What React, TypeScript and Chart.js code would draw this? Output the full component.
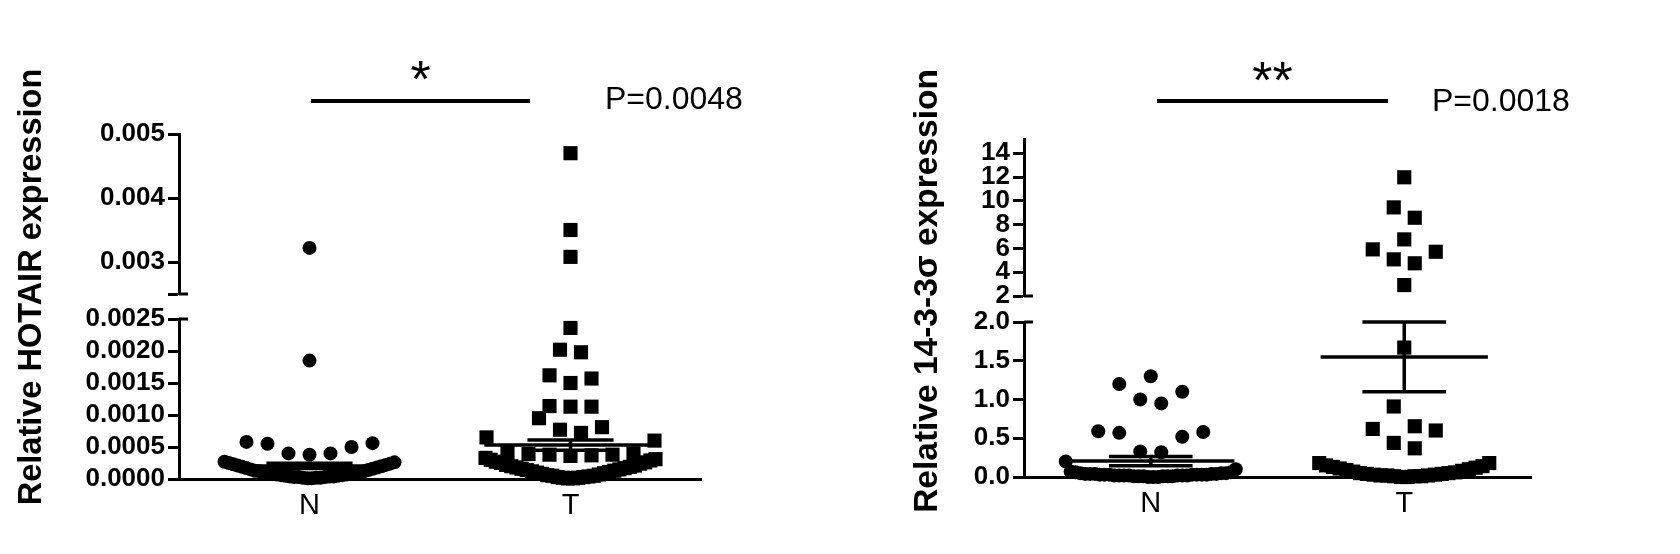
import React, { useEffect, useRef } from "react";
import { Chart, registerables } from "chart.js";

Chart.register(...registerables);

// ---------------- data ----------------
const CATEGORIES = ["N", "T"];

// Panel 1: Relative HOTAIR expression
const HOTAIR_N = [
  0.00322, 0.00185,
  0.00058, 0.00056, 0.00055, 0.0005, 0.0004, 0.0004, 0.00038,
  0.00027, 0.00026, 0.00025, 0.00024, 0.00023, 0.00022, 0.00021, 0.0002, 0.00019, 0.00018,
  0.00017, 0.00016, 0.00015, 0.00014, 0.00013, 0.00012, 0.00012, 0.00011, 0.0001, 0.0001,
  0.00009, 0.00008, 0.00008, 0.00007, 0.00007, 0.00006, 0.00006, 0.00005, 0.00005, 0.00004,
  0.00004, 0.00004, 0.00003, 0.00003, 0.00003, 0.00002, 0.00002, 0.00002, 0.00001, 0.00001,
];
const HOTAIR_T = [
  0.0047, 0.0035, 0.00308,
  0.00236, 0.00202, 0.00198, 0.00162, 0.00157, 0.0015, 0.00114, 0.00113, 0.00113,
  0.00095, 0.00081, 0.00077, 0.00072, 0.00065, 0.0006,
  0.00041, 0.0004, 0.00039, 0.00038, 0.00038, 0.00037, 0.00036,
  0.00033, 0.00031, 0.0003, 0.00029, 0.00027, 0.00026, 0.00025, 0.00024, 0.00022, 0.00021,
  0.0002, 0.00019, 0.00018, 0.00017, 0.00016, 0.00015, 0.00014, 0.00013, 0.00012, 0.00011,
  0.0001, 0.00009, 0.00008, 0.00007, 0.00006, 0.00005, 0.00005, 0.00004, 0.00003, 0.00003,
  0.00002, 0.00002, 0.00001, 0.00001,
];
const HOTAIR_MEAN = [0.000205, 0.00053];
const HOTAIR_SEM = [0.00004, 0.00008];
const HOTAIR_LOWER_TICKS = [0, 0.0005, 0.001, 0.0015, 0.002, 0.0025];
const HOTAIR_UPPER_TICKS = [0.0025, 0.003, 0.004, 0.005];
const HOTAIR_BREAK = 0.0025;
const HOTAIR_TOP = 0.005;

// Panel 2: Relative 14-3-3σ expression
const SIGMA_N = [
  1.3, 1.2, 1.1, 1.0, 0.95,
  0.59, 0.58, 0.57, 0.52, 0.33, 0.32,
  0.2, 0.1, 0.07, 0.06, 0.06, 0.05, 0.05, 0.05, 0.04, 0.04, 0.04, 0.04, 0.04,
  0.03, 0.03, 0.03, 0.03, 0.03, 0.03, 0.03, 0.02, 0.02, 0.02, 0.02, 0.02, 0.02, 0.02,
  0.01, 0.01, 0.01, 0.01, 0.01, 0.01, 0, 0, 0,
];
const SIGMA_T = [
  11.98, 9.45, 8.58, 6.76, 5.92, 5.72, 5.08, 4.75, 2.92,
  1.67, 0.91, 0.655, 0.62, 0.6, 0.44, 0.37, 0.18, 0.18,
  0.15, 0.14, 0.13, 0.12, 0.11, 0.1, 0.09, 0.08, 0.07, 0.06, 0.05, 0.05,
  0.04, 0.04, 0.03, 0.03, 0.02, 0.02, 0.02, 0.01, 0.01, 0.01, 0, 0,
];
const SIGMA_MEAN = [0.205, 1.55];
const SIGMA_SEM = [0.06, 0.45];
const SIGMA_LOWER_TICKS = [0, 0.5, 1, 1.5, 2];
const SIGMA_UPPER_TICKS = [2, 4, 6, 8, 10, 12, 14];
const SIGMA_BREAK = 2;
const SIGMA_TOP = 15.2;

// ---------------- style / layout ----------------
const FONT = "'Liberation Sans', Arial, Helvetica, sans-serif";
const INK = "#000";
const YAXIS_W = 150;
const XAXIS_H = 45;
const TICK_LEN = 11;
const CAP_LEN = 9;
const MEAN_HALF = 0.33;
const SEM_HALF = 0.165;
const ROW_PX = 21;
const STEP_PX = 21;
const HALF_PX = 85;
const MARKERS = ["circle", "rect"];
const MARKER_R = [7, 10];

const PANELS = [
  {
    key: "hotair",
    title: "Relative HOTAIR expression",
    stars: "*",
    pLabel: "P=0.0048",
    groups: [HOTAIR_N, HOTAIR_T],
    means: HOTAIR_MEAN,
    sems: HOTAIR_SEM,
    brk: HOTAIR_BREAK,
    top: HOTAIR_TOP,
    lowerTicks: HOTAIR_LOWER_TICKS,
    upperTicks: HOTAIR_UPPER_TICKS,
    lowerDigits: 4,
    upperDigits: 3,
    hideUpperFirst: true,
    layout: {
      left: 0,
      pad: { left: 29, right: 139, top: 134, bottom: 30 },
      weights: [160, 25, 160],
      titleX: 32,
      titleY: 287,
      titleSize: 32.5,
      bar: [0.506, 1.345],
      barY: 101,
      starBase: 97,
      pX: 605,
      pY: 100,
    },
  },
  {
    key: "sigma",
    title: "Relative 14-3-3σ expression",
    stars: "**",
    pLabel: "P=0.0018",
    groups: [SIGMA_N, SIGMA_T],
    means: SIGMA_MEAN,
    sems: SIGMA_SEM,
    brk: SIGMA_BREAK,
    top: SIGMA_TOP,
    lowerTicks: SIGMA_LOWER_TICKS,
    upperTicks: SIGMA_UPPER_TICKS,
    lowerDigits: 1,
    upperDigits: 0,
    hideUpperFirst: false,
    layout: {
      left: 840,
      pad: { left: 34, right: 149, top: 139, bottom: 32 },
      weights: [157, 26, 155],
      titleX: 88,
      titleY: 291,
      titleSize: 33.5,
      bar: [0.525, 1.436],
      barY: 101,
      starBase: 98,
      pX: 592,
      pY: 102,
    },
  },
];

// Prism-like row scatter: rows of nearby values, spread centre-out
function swarmOffsets(values: number[], toPx: (v: number) => number): number[] {
  const idx = values.map((_, i) => i).sort((a, b) => values[a] - values[b]);
  const off = new Array(values.length).fill(0);
  let i = 0;
  while (i < idx.length) {
    const start = toPx(values[idx[i]]);
    let j = i;
    while (j < idx.length && Math.abs(toPx(values[idx[j]]) - start) <= ROW_PX + 1e-6) j++;
    const row = idx.slice(i, j);
    const k = row.length;
    const s = k > 1 ? Math.min(STEP_PX, (2 * HALF_PX) / (k - 1)) : 0;
    const slots = Array.from({ length: k }, (_, m) => (m - (k - 1) / 2) * s);
    slots.sort((a, b) => Math.abs(a) - Math.abs(b) || b - a);
    row.forEach((p, m) => (off[p] = slots[m]));
    i = j;
  }
  return off;
}

function buildChart(canvas: HTMLCanvasElement, p: any) {
  const L = p.layout;
  const datasets: any[] = [];
  const jobs: any[] = [];

  p.groups.forEach((vals: number[], gi: number) => {
    const center = gi + 0.5;
    const parts = [
      { axis: "yUpper", values: vals.filter((v) => v > p.brk) },
      { axis: "yLower", values: vals.filter((v) => v <= p.brk) },
    ];
    parts.forEach((part) => {
      if (!part.values.length) return;
      jobs.push({ ds: datasets.length, values: part.values, center, axis: part.axis });
      datasets.push({
        type: "scatter",
        label: CATEGORIES[gi],
        data: part.values.map((v) => ({ x: center, y: v })),
        xAxisID: "x",
        yAxisID: part.axis,
        pointStyle: MARKERS[gi],
        pointRadius: MARKER_R[gi],
        pointHoverRadius: MARKER_R[gi],
        pointBackgroundColor: INK,
        pointBorderColor: INK,
        pointBorderWidth: 0,
        clip: false,
        order: 2,
      });
    });
    const m = p.means[gi];
    const s = p.sems[gi];
    const segs = [
      [[center - MEAN_HALF, m], [center + MEAN_HALF, m]],
      [[center - SEM_HALF, m + s], [center + SEM_HALF, m + s]],
      [[center - SEM_HALF, m - s], [center + SEM_HALF, m - s]],
      [[center, m - s], [center, m + s]],
    ];
    segs.forEach((seg) =>
      datasets.push({
        type: "scatter",
        showLine: true,
        data: seg.map(([x, y]) => ({ x, y })),
        xAxisID: "x",
        yAxisID: "yLower",
        borderColor: INK,
        borderWidth: 3.5,
        borderCapStyle: "butt",
        pointRadius: 0,
        pointHoverRadius: 0,
        clip: false,
        order: 1,
      })
    );
  });

  const yBase = {
    type: "linear",
    position: "left",
    stack: "y",
    afterFit: (sc: any) => {
      sc.width = YAXIS_W;
    },
    grid: { drawOnChartArea: false, drawTicks: true, tickLength: TICK_LEN, tickWidth: 3, tickColor: INK },
    border: { display: true, color: INK, width: 3 },
    ticks: {
      autoSkip: false,
      padding: 3,
      color: INK,
      font: { family: FONT, size: 26, weight: "bold" },
    },
  };

  const annot = {
    id: "annot-" + p.key,
    afterDraw(chart: any) {
      const ctx = chart.ctx;
      const xs = chart.scales.x;
      const up = chart.scales.yUpper;
      const lo = chart.scales.yLower;
      ctx.save();
      ctx.fillStyle = INK;
      ctx.strokeStyle = INK;
      // y title
      ctx.save();
      ctx.translate(L.titleX, L.titleY);
      ctx.rotate(-Math.PI / 2);
      ctx.font = `bold ${L.titleSize}px ${FONT}`;
      ctx.textAlign = "center";
      ctx.textBaseline = "middle";
      ctx.fillText(p.title, 0, 0);
      ctx.restore();
      // axis break caps (right half)
      const ax = chart.chartArea.left;
      ctx.lineWidth = 3;
      ctx.lineCap = "butt";
      [up.getPixelForValue(up.min), lo.getPixelForValue(lo.max)].forEach((y: number) => {
        ctx.beginPath();
        ctx.moveTo(ax, y);
        ctx.lineTo(ax + CAP_LEN, y);
        ctx.stroke();
      });
      // significance bar
      const x1 = xs.getPixelForValue(L.bar[0]);
      const x2 = xs.getPixelForValue(L.bar[1]);
      ctx.lineWidth = 4;
      ctx.beginPath();
      ctx.moveTo(x1, L.barY);
      ctx.lineTo(x2, L.barY);
      ctx.stroke();
      ctx.font = `52px ${FONT}`;
      ctx.textAlign = "center";
      ctx.textBaseline = "alphabetic";
      ctx.fillText(p.stars, (x1 + x2) / 2, L.starBase);
      // P value
      ctx.font = `32px ${FONT}`;
      ctx.textAlign = "left";
      ctx.textBaseline = "middle";
      ctx.fillText(p.pLabel, L.pX, L.pY);
      ctx.restore();
    },
  };

  const chart = new Chart(canvas, {
    type: "scatter",
    data: { datasets },
    options: {
      animation: false,
      responsive: false,
      maintainAspectRatio: false,
      devicePixelRatio: 1,
      events: [],
      layout: { autoPadding: false, padding: L.pad },
      plugins: { legend: { display: false }, tooltip: { enabled: false }, title: { display: false } },
      scales: {
        x: {
          type: "linear",
          position: "bottom",
          min: 0,
          max: CATEGORIES.length,
          afterBuildTicks: (sc: any) => {
            sc.ticks = CATEGORIES.map((_, i) => ({ value: i + 0.5 }));
          },
          afterFit: (sc: any) => {
            sc.height = XAXIS_H;
          },
          grid: { drawOnChartArea: false, tickLength: 6, tickWidth: 3, tickColor: INK },
          border: { display: true, color: INK, width: 3 },
          ticks: {
            autoSkip: false,
            maxRotation: 0,
            padding: 4,
            color: INK,
            font: { family: FONT, size: 29 },
            callback: (v: any) => CATEGORIES[Math.floor(Number(v))],
          },
        },
        yUpper: {
          ...yBase,
          weight: 3,
          stackWeight: L.weights[0],
          min: p.brk,
          max: p.top,
          afterBuildTicks: (sc: any) => {
            sc.ticks = p.upperTicks.map((v: number) => ({ value: v }));
          },
          ticks: {
            ...yBase.ticks,
            callback: (v: any) =>
              p.hideUpperFirst && Number(v) === p.brk ? "" : Number(v).toFixed(p.upperDigits),
          },
        },
        yGap: {
          type: "linear",
          position: "left",
          stack: "y",
          weight: 2,
          stackWeight: L.weights[1],
          min: 0,
          max: 1,
          afterFit: (sc: any) => {
            sc.width = YAXIS_W;
          },
          grid: { display: false, drawTicks: false },
          border: { display: false },
          ticks: { display: false },
        },
        yLower: {
          ...yBase,
          weight: 1,
          stackWeight: L.weights[2],
          min: 0,
          max: p.brk,
          afterBuildTicks: (sc: any) => {
            sc.ticks = p.lowerTicks.map((v: number) => ({ value: v }));
          },
          ticks: {
            ...yBase.ticks,
            callback: (v: any) => Number(v).toFixed(p.lowerDigits),
          },
        },
      },
    },
    plugins: [annot],
  } as any);

  // lay out the scatter columns with the chart's own scales
  const xs: any = chart.scales.x;
  jobs.forEach((job) => {
    const ys: any = (chart.scales as any)[job.axis];
    const off = swarmOffsets(job.values, (v) => ys.getPixelForValue(v));
    const cx = xs.getPixelForValue(job.center);
    (chart.data.datasets[job.ds] as any).data = job.values.map((v: number, i: number) => ({
      x: xs.getValueForPixel(cx + off[i]),
      y: v,
    }));
  });
  chart.update("none");
  return chart;
}

function Panel({ spec }: { spec: any }) {
  const ref = useRef<HTMLCanvasElement>(null);
  useEffect(() => {
    if (!ref.current) return;
    const chart = buildChart(ref.current, spec);
    return () => chart.destroy();
  }, [spec]);
  return (
    <canvas
      ref={ref}
      width={840}
      height={554}
      style={{ position: "absolute", left: spec.layout.left, top: 0, width: 840, height: 554 }}
    />
  );
}

export default function App() {
  return (
    <div
      style={{
        position: "absolute",
        left: 0,
        top: 0,
        width: 1680,
        height: 554,
        background: "#fff",
        overflow: "hidden",
      }}
    >
      {PANELS.map((p) => (
        <Panel key={p.key} spec={p} />
      ))}
    </div>
  );
}
